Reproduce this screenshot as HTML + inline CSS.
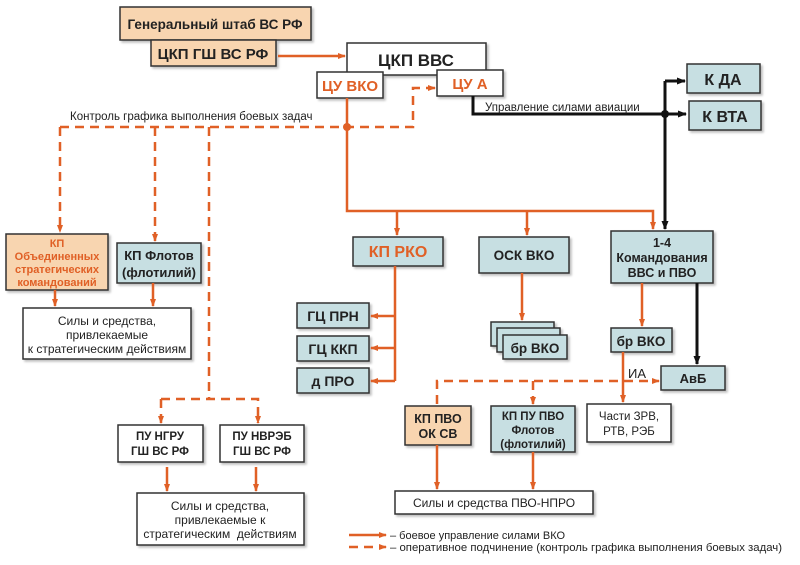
<!DOCTYPE html>
<html><head><meta charset="utf-8"><style>
body{margin:0;background:#fff}
svg text{font-family:"Liberation Sans",sans-serif}
.b{font-weight:bold;fill:#222}
.n{fill:#222}
.o{fill:#e06026}
</style></head><body>
<svg width="800" height="560" viewBox="0 0 800 560" xmlns="http://www.w3.org/2000/svg" font-size="13">
<defs>
<marker id="ao" markerWidth="8" markerHeight="6" refX="7" refY="3" orient="auto" markerUnits="userSpaceOnUse"><path d="M0,0 L8,3 L0,6 z" fill="#e06026"/></marker>
<marker id="ak" markerWidth="9" markerHeight="7" refX="8" refY="3.5" orient="auto" markerUnits="userSpaceOnUse"><path d="M0,0 L9,3.5 L0,7 z" fill="#111"/></marker>
<filter id="sh" x="-10%" y="-10%" width="130%" height="140%"><feDropShadow dx="2" dy="2" stdDeviation="1" flood-color="#000" flood-opacity="0.25"/></filter>
</defs>
<g stroke="#333" stroke-width="1.5" filter="url(#sh)">
<rect x="120" y="7" width="191" height="33" fill="#f8d5b0"/>
<rect x="151" y="40" width="125" height="26" fill="#f8d5b0"/>
<rect x="347" y="43" width="139" height="32" fill="#fff"/>
<rect x="317" y="72" width="66" height="26" fill="#fff"/>
<rect x="437" y="70" width="66" height="26" fill="#fff"/>
<rect x="687" y="64" width="73" height="29" fill="#c7dfe2"/>
<rect x="689" y="101" width="72" height="29" fill="#c7dfe2"/>
<rect x="6" y="234" width="102" height="56" fill="#f8d5b0"/>
<rect x="117" y="243" width="84" height="40" fill="#c7dfe2"/>
<rect x="23" y="308" width="168" height="51" fill="#fff"/>
<rect x="353" y="237" width="90" height="29" fill="#c7dfe2"/>
<rect x="479" y="237" width="90" height="36" fill="#c7dfe2"/>
<rect x="611" y="231" width="102" height="52" fill="#c7dfe2"/>
<rect x="297" y="303" width="72" height="25" fill="#c7dfe2"/>
<rect x="297" y="336" width="72" height="25" fill="#c7dfe2"/>
<rect x="297" y="368" width="72" height="25" fill="#c7dfe2"/>
<rect x="491" y="322" width="63" height="24" fill="#c7dfe2"/>
<rect x="497" y="328" width="63" height="24" fill="#c7dfe2"/>
<rect x="503" y="335" width="64" height="24" fill="#c7dfe2"/>
<rect x="611" y="328" width="61" height="24" fill="#c7dfe2"/>
<rect x="661" y="366" width="64" height="24" fill="#c7dfe2"/>
<rect x="405" y="406" width="66" height="39" fill="#f8d5b0"/>
<rect x="491" y="406" width="84" height="46" fill="#c7dfe2"/>
<rect x="587" y="404" width="84" height="38" fill="#fff"/>
<rect x="395" y="491" width="198" height="23" fill="#fff"/>
<rect x="118" y="425" width="85" height="37" fill="#fff"/>
<rect x="220" y="425" width="84" height="37" fill="#fff"/>
<rect x="137" y="493" width="167" height="52" fill="#fff"/>
</g>
<g stroke="#e06026" stroke-width="2.5" fill="none">
<path d="M278,56 H345" marker-end="url(#ao)"/>
<path d="M347,98 V211 H653 V229" marker-end="url(#ao)"/>
<path d="M397,211 V235" marker-end="url(#ao)"/>
<path d="M527,211 V235" marker-end="url(#ao)"/>
<path d="M395,266 V381"/>
<path d="M395,316 H371" marker-end="url(#ao)"/>
<path d="M395,348 H371" marker-end="url(#ao)"/>
<path d="M395,381 H371" marker-end="url(#ao)"/>
<path d="M522,273 V320" marker-end="url(#ao)"/>
<path d="M642,283 V326" marker-end="url(#ao)"/>
<path d="M623,352 V402" marker-end="url(#ao)"/>
<path d="M55,290 V306" marker-end="url(#ao)"/>
<path d="M153,283 V306" marker-end="url(#ao)"/>
<path d="M437,445 V489" marker-end="url(#ao)"/>
<path d="M533,452 V489" marker-end="url(#ao)"/>
<path d="M167,467 V491" marker-end="url(#ao)"/>
<path d="M256,467 V491" marker-end="url(#ao)"/>
<path d="M349,535 H386" marker-end="url(#ao)"/>
</g>
<g stroke="#e06026" stroke-width="2.5" fill="none" stroke-dasharray="9,6">
<path d="M60,127 H413 V88 H435" marker-end="url(#ao)"/>
<path d="M60,127 V232" marker-end="url(#ao)"/>
<path d="M155,127 V241" marker-end="url(#ao)"/>
<path d="M209,127 V399"/>
<path d="M161,399 H258 V423" marker-end="url(#ao)"/>
<path d="M161,399 V423" marker-end="url(#ao)"/>
<path d="M437,404 V381 H659" marker-end="url(#ao)"/>
<path d="M533,381 V404" marker-end="url(#ao)"/>
<path d="M349,547 H386" marker-end="url(#ao)"/>
</g>
<circle cx="347" cy="127" r="4" fill="#e06026"/>
<g stroke="#111" stroke-width="3" fill="none">
<path d="M473,96 V114 H686" marker-end="url(#ak)"/>
<path d="M665,81 H685" marker-end="url(#ak)"/>
<path d="M665,81 V229" marker-end="url(#ak)"/>
<path d="M697,283 V364" marker-end="url(#ak)"/>
</g>
<circle cx="665" cy="114" r="4" fill="#111"/>
<g text-anchor="middle">
<text class="b" x="215" y="29" font-size="13.5">Генеральный штаб ВС РФ</text>
<text class="b" x="213" y="59" font-size="15">ЦКП ГШ ВС РФ</text>
<text class="b" x="416" y="66" font-size="17">ЦКП ВВС</text>
<text class="b o" x="350" y="91" font-size="15">ЦУ ВКО</text>
<text class="b o" x="470" y="89" font-size="15">ЦУ А</text>
<text class="b" x="723" y="85" font-size="16">К ДА</text>
<text class="b" x="725" y="122" font-size="16">К ВТА</text>
<text class="b o" x="57" y="247" font-size="11">КП</text>
<text class="b o" x="57" y="260" font-size="11">Объединенных</text>
<text class="b o" x="57" y="273" font-size="11">стратегических</text>
<text class="b o" x="57" y="286" font-size="11">командований</text>
<text class="b" x="159" y="260" font-size="13">КП Флотов</text>
<text class="b" x="159" y="277" font-size="13">(флотилий)</text>
<text class="n" x="107" y="325" font-size="12">Силы и средства,</text>
<text class="n" x="107" y="339" font-size="12">привлекаемые</text>
<text class="n" x="107" y="353" font-size="12">к стратегическим действиям</text>
<text class="b o" x="398" y="257" font-size="16">КП РКО</text>
<text class="b" x="524" y="260" font-size="13.5">ОСК ВКО</text>
<text class="b" x="662" y="247" font-size="12.5">1-4</text>
<text class="b" x="662" y="262" font-size="12.5">Командования</text>
<text class="b" x="662" y="277" font-size="12.5">ВВС и ПВО</text>
<text class="b" x="333" y="321" font-size="14">ГЦ ПРН</text>
<text class="b" x="333" y="354" font-size="14">ГЦ ККП</text>
<text class="b" x="333" y="386" font-size="14">д ПРО</text>
<text class="b" x="535" y="353" font-size="13.5">бр ВКО</text>
<text class="b" x="641" y="346" font-size="13.5">бр ВКО</text>
<text class="b" x="693" y="383" font-size="13">АвБ</text>
<text class="b" x="438" y="423" font-size="12.5">КП ПВО</text>
<text class="b" x="438" y="438" font-size="12.5">ОК СВ</text>
<text class="b" x="533" y="420" font-size="11.5">КП ПУ ПВО</text>
<text class="b" x="533" y="434" font-size="11.5">Флотов</text>
<text class="b" x="533" y="448" font-size="11.5">(флотилий)</text>
<text class="n" x="629" y="420" font-size="11.5">Части ЗРВ,</text>
<text class="n" x="629" y="435" font-size="11.5">РТВ, РЭБ</text>
<text class="n" x="494" y="507" font-size="12">Силы и средства ПВО-НПРО</text>
<text class="b" x="160" y="440" font-size="11.5">ПУ НГРУ</text>
<text class="b" x="160" y="455" font-size="11.5">ГШ ВС РФ</text>
<text class="b" x="262" y="440" font-size="11.5">ПУ НВРЭБ</text>
<text class="b" x="262" y="455" font-size="11.5">ГШ ВС РФ</text>
<text class="n" x="220" y="510" font-size="12">Силы и средства,</text>
<text class="n" x="220" y="524" font-size="12">привлекаемые к</text>
<text class="n" x="220" y="538" font-size="12">стратегическим&#160; действиям</text>
</g>
<text class="n" x="70" y="120" font-size="11.5">Контроль графика выполнения боевых задач</text>
<text class="n" x="485" y="111" font-size="11.5">Управление силами авиации</text>
<text class="n" x="628" y="378" font-size="13">ИА</text>
<text class="n" x="390" y="539" font-size="11">– боевое управление силами ВКО</text>
<text class="n" x="390" y="551" font-size="11" textLength="392" lengthAdjust="spacingAndGlyphs">– оперативное подчинение (контроль графика выполнения боевых задач)</text>
</svg>
</body></html>
